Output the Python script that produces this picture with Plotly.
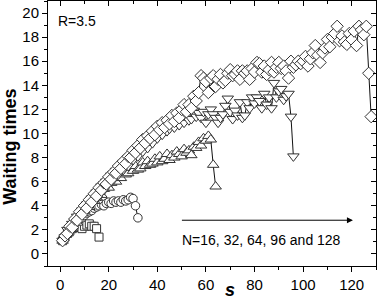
import plotly.graph_objects as go

# ---- data ----
n16 = [1.1, 1.4, 1.7, 1.9, 2.1, 2.2, 2.2, 2.3, 2.1, 2.3, 2.4, 2.5, 2.3, 2.3, 2.1, 1.4]

n32 = [1.1, 1.4, 1.7, 2.0, 2.2, 2.5, 2.7, 2.9, 3.0, 3.2,
       3.4, 3.5, 3.6, 3.8, 3.9, 4.0, 4.1, 4.0, 4.2, 4.3,
       4.2, 4.4, 4.3, 4.4, 4.3, 4.5, 4.4, 4.5, 4.7, 4.6,
       4.0, 3.0]

n64 = [1.1, 1.6, 1.7, 2.2, 2.3, 2.8, 2.6, 3.3, 3.4, 3.6,
       4.0, 3.9, 4.5, 4.4, 4.7, 5.1, 4.9, 5.4, 5.8, 5.5,
       5.9, 6.2, 6.0, 6.5, 6.3, 6.8, 6.6, 6.7, 7.2, 6.9,
       7.3, 7.0, 7.1, 7.6, 7.3, 7.7, 7.4, 7.5, 7.9, 7.6,
       8.1, 7.7, 7.9, 8.3, 7.8, 8.2, 8.0, 8.5, 8.3, 8.1,
       8.7, 8.4, 8.6, 8.2, 8.9, 8.8, 9.3, 9.0, 9.6, 9.4,
       9.8, 9.5, 7.4, 5.6]

n96 = [1.1, 1.4, 2.0, 2.0, 2.5, 2.7, 3.1, 3.0, 3.6, 3.5,
       4.1, 4.0, 4.6, 4.5, 5.1, 4.9, 5.6, 5.3, 6.0, 5.9,
       6.5, 6.2, 6.9, 6.6, 7.3, 7.0, 7.7, 7.3, 8.1, 7.8,
       8.4, 8.1, 8.8, 8.5, 9.2, 8.8, 9.6, 9.2, 9.9, 9.6,
       10.3, 9.9, 10.6, 10.2, 10.4, 10.9, 10.5, 11.1, 10.7, 11.3,
       10.9, 11.5, 11.1, 11.2, 11.9, 11.4, 11.7, 11.3, 11.8, 10.9,
       11.6, 12.0, 11.6, 11.3, 10.9, 11.3, 11.6, 12.3, 12.9, 11.8,
       11.2, 11.9, 11.5, 12.6, 11.3, 11.5, 12.6, 12.1, 13.0, 12.5,
       13.0, 12.7, 12.1, 13.3, 12.4, 13.0, 12.1, 14.2, 13.0, 13.5,
       13.7, 12.8, 13.1, 13.3, 11.4, 8.1]

n128 = [1.1, 1.5, 1.7, 2.3, 2.2, 2.9, 2.8, 3.5, 3.3, 4.0,
        3.8, 4.5, 4.3, 5.0, 4.8, 5.5, 5.3, 5.9, 5.8, 6.4,
        6.2, 6.8, 6.7, 7.3, 7.1, 7.7, 7.5, 8.1, 8.0, 8.6,
        8.4, 9.0, 8.8, 9.5, 9.2, 9.8, 9.6, 10.2, 9.9, 10.6,
        10.3, 10.9, 10.5, 11.1, 10.8, 11.5, 11.0, 11.7, 11.3, 12.0,
        12.4, 11.8, 12.4, 12.1, 13.1, 12.7, 13.4, 14.8, 14.6, 14.3,
        13.4, 14.6, 14.8, 13.9, 14.5, 14.9, 14.2, 14.4, 15.0, 15.3,
        14.8, 14.9, 15.2, 14.5, 15.2, 15.0, 15.2, 14.5, 15.4, 15.1,
        15.9, 15.8, 15.1, 15.6, 14.9, 15.3, 15.9, 15.1, 15.5, 15.9,
        15.4, 15.6, 15.2, 14.6, 16.0, 15.5, 15.7, 16.0, 15.8, 16.0,
        16.4, 15.6, 16.2, 16.7, 17.3, 16.5, 15.9, 16.7, 17.1, 17.8,
        17.2, 18.0, 18.3, 18.9, 17.7, 18.1, 17.6, 17.4, 18.3, 17.8,
        18.5, 17.3, 18.9, 18.6, 18.2, 18.9, 15.0, 11.4]

series = [
    ("N=16", n16, "square", 8),
    ("N=32", n32, "circle", 8.5),
    ("N=64", n64, "triangle-up", 10),
    ("N=96", n96, "triangle-down", 10),
    ("N=128", n128, "diamond", 9.5),
]

x_ticks = [0, 20, 40, 60, 80, 100, 120]
y_ticks = [0, 2, 4, 6, 8, 10, 12, 14, 16, 18, 20]

fig = go.Figure()
for name, vals, sym, sz in series:
    s = list(range(1, len(vals) + 1))
    fig.add_trace(go.Scatter(
        x=s, y=vals, mode="lines+markers", name=name,
        line=dict(color="#111", width=1),
        marker=dict(symbol=sym, size=sz, color="white",
                    line=dict(color="#333", width=1)),
        showlegend=False,
    ))

font = "Liberation Sans, Arial, sans-serif"
axis_common = dict(showgrid=False, zeroline=False, showline=True,
                   linecolor="black", linewidth=1, automargin=False)

fig.update_layout(
    width=382, height=300,
    margin=dict(l=48, r=6, t=1, b=34),
    plot_bgcolor="white", paper_bgcolor="white",
    font=dict(family=font, size=15, color="black"),
    xaxis=dict(range=[-5, 130], tickvals=x_ticks, ticks="outside",
               ticklen=5, tickwidth=1, tickcolor="black", mirror=True,
               minor=dict(dtick=10, tick0=0, ticks="outside", ticklen=3,
                          tickcolor="black"),
               tickfont=dict(size=15), **axis_common),
    yaxis=dict(range=[-1, 21], tickvals=y_ticks, ticks="outside",
               ticklen=5, tickwidth=1, tickcolor="black", mirror=True,
               minor=dict(dtick=1, tick0=0, ticks="outside", ticklen=3,
                          tickcolor="black"),
               tickfont=dict(size=15), **axis_common),
    xaxis2=dict(range=[-5, 130], overlaying="x", side="top",
                tickvals=x_ticks, ticks="inside", ticklen=5,
                tickcolor="black", showticklabels=False,
                minor=dict(dtick=10, tick0=0, ticks="inside", ticklen=3,
                           tickcolor="black"),
                showgrid=False, zeroline=False, automargin=False),
    yaxis2=dict(range=[-1, 21], overlaying="y", side="right",
                tickvals=y_ticks, ticks="inside", ticklen=5,
                tickcolor="black", showticklabels=False,
                minor=dict(dtick=1, tick0=0, ticks="inside", ticklen=3,
                           tickcolor="black"),
                showgrid=False, zeroline=False, automargin=False),
)

# dummy trace to activate the mirrored tick axes
fig.add_trace(go.Scatter(x=[None], y=[None], xaxis="x2", yaxis="y2",
                         showlegend=False, hoverinfo="skip"))

# y-axis title
fig.add_annotation(x=0, y=0.45, xref="paper", yref="paper",
                   text="<b>Waiting times</b>", textangle=-90,
                   showarrow=False, xanchor="center", yanchor="middle",
                   xshift=-38, font=dict(size=18))
fig.add_annotation(x=-1.8, y=19.3, xref="x", yref="y", text="R=3.5",
                   showarrow=False, xanchor="left", yanchor="middle",
                   font=dict(size=14))
fig.add_annotation(x=120.5, y=2.8, ax=49.5, ay=2.8, xref="x", yref="y",
                   axref="x", ayref="y", text="", showarrow=True,
                   arrowhead=2, arrowsize=1.2, arrowwidth=1,
                   arrowcolor="black")
fig.add_annotation(x=49.5, y=1.2, xref="x", yref="y",
                   text="N=16, 32, 64, 96 and 128", showarrow=False,
                   xanchor="left", yanchor="middle", font=dict(size=14))
fig.add_annotation(x=70, y=-0.09, xref="x", yref="paper", text="<b><i>s</i></b>",
                   showarrow=False, yanchor="middle",
                   font=dict(size=18))

fig.write_html("out.html",
               config={"displayModeBar": False},
               post_script="document.body.style.margin='0';"
                           "document.body.style.overflow='hidden';")
